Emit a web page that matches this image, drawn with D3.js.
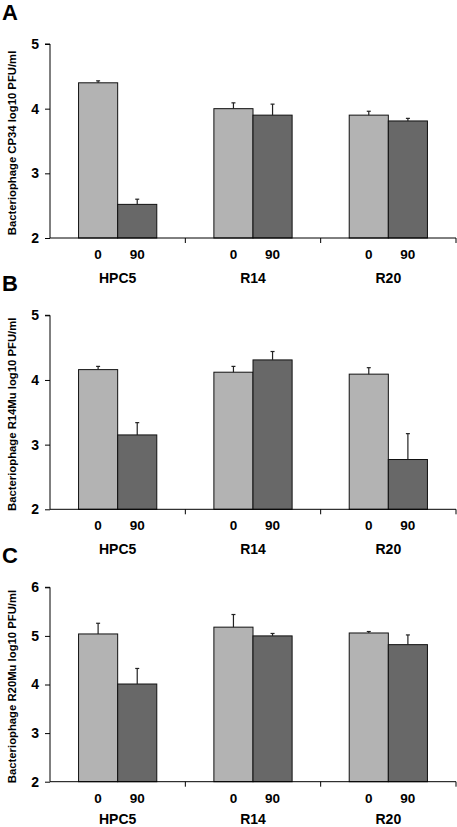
<!DOCTYPE html>
<html><head><meta charset="utf-8">
<script src="https://cdn.jsdelivr.net/npm/d3@7"></script>
<style>body{margin:0;background:#fff}svg{display:block}text{font-family:"Liberation Sans",Arial,sans-serif;font-weight:bold;fill:#000}</style>
</head><body>
<script>
const groups = ["HPC5", "R14", "R20"];
const times = ["0", "90"];
const panelLetters = ["A", "B", "C"];
const yTitles = ["Bacteriophage CP34 log10 PFU/ml", "Bacteriophage R14Mu log10 PFU/ml", "Bacteriophage R20Mu log10 PFU/ml"];
const yDomains = [[2, 5], [2, 5], [2, 6]];
const yTicks = [[2, 3, 4, 5], [2, 3, 4, 5], [2, 3, 4, 5, 6]];
// values [group][time]
const valuesA = [[4.40, 2.52], [4.00, 3.90], [3.90, 3.81]];
const errTopA = [[4.43, 2.60], [4.09, 4.07], [3.96, 3.85]];
const valuesB = [[4.16, 3.15], [4.12, 4.31], [4.09, 2.77]];
const errTopB = [[4.21, 3.34], [4.21, 4.44], [4.19, 3.17]];
const valuesC = [[5.04, 4.01], [5.18, 5.00], [5.06, 4.82]];
const errTopC = [[5.26, 4.33], [5.44, 5.05], [5.09, 5.02]];

const panels = [
  {vals: valuesA, errs: errTopA, top: 44, bottom: 238},
  {vals: valuesB, errs: errTopB, top: 315.3, bottom: 509.3},
  {vals: valuesC, errs: errTopC, top: 587.3, bottom: 781.7}
];
const colors = {"0": "#b3b3b3", "90": "#686868"};

const svg = d3.select("body").append("svg").attr("width", 457).attr("height", 827);
const x = d3.scaleBand().domain(groups).range([50, 456]).padding(0);
const xi = d3.scaleBand().domain(times).range([0, x.bandwidth()]).paddingInner(0).paddingOuter(0.73);

panels.forEach((p, pi) => {
  const g = svg.append("g");
  const y = d3.scaleLinear().domain(yDomains[pi]).range([p.bottom, p.top]);
  // panel letter
  g.append("text").attr("x", 2).attr("y", p.top - 24).style("font-size", "22px").text(panelLetters[pi]);
  // y title
  g.append("text").attr("transform", `translate(16,${(p.top + p.bottom) / 2 + 2}) rotate(-90)`)
    .attr("text-anchor", "middle").style("font-size", "11.3px").text(yTitles[pi]);
  // bars
  groups.forEach((gr, gi) => {
    times.forEach((t, ti) => {
      const bx = x(gr) + xi(t);
      const v = p.vals[gi][ti];
      const e = p.errs[gi][ti];
      g.append("rect").attr("x", bx).attr("y", y(v)).attr("width", xi.bandwidth()).attr("height", y(yDomains[pi][0]) - y(v))
        .attr("fill", colors[t]).attr("stroke", "#111").attr("stroke-width", 1);
      const cx = bx + xi.bandwidth() / 2;
      g.append("line").attr("x1", cx).attr("x2", cx).attr("y1", y(v)).attr("y2", y(e)).attr("stroke", "#222").attr("stroke-width", 1.2);
      g.append("line").attr("x1", cx - 2).attr("x2", cx + 2).attr("y1", y(e)).attr("y2", y(e)).attr("stroke", "#222").attr("stroke-width", 1.2);
      g.append("text").attr("x", cx).attr("y", p.bottom + 21).attr("text-anchor", "middle").style("font-size", "13.5px").text(t);
    });
    g.append("text").attr("x", x(gr) + x.bandwidth() / 2).attr("y", Math.min(p.bottom + 45, 824)).attr("text-anchor", "middle").style("font-size", "14px").text(gr);
  });
  // y axis
  const ya = g.append("g").attr("transform", "translate(50,0)")
    .call(d3.axisLeft(y).tickValues(yTicks[pi]).tickFormat(d3.format("d")).tickSize(5).tickPadding(6));
  ya.select(".domain").attr("stroke", "#000").attr("d", `M-5,${p.top}H0V${p.bottom}`);
  ya.selectAll("line").attr("stroke", "#000");
  ya.selectAll("text").style("font-size", "14px").style("font-family", '"Liberation Sans",Arial,sans-serif').style("font-weight", "bold");
  // x axis line and separators
  g.append("line").attr("x1", 50).attr("x2", 456).attr("y1", p.bottom).attr("y2", p.bottom).attr("stroke", "#000");
  groups.forEach(gr => {
    const sx = x(gr) + x.bandwidth();
    g.append("line").attr("x1", sx).attr("x2", sx).attr("y1", p.bottom).attr("y2", p.bottom + 5).attr("stroke", "#000");
  });
});
</script>
</body></html>
